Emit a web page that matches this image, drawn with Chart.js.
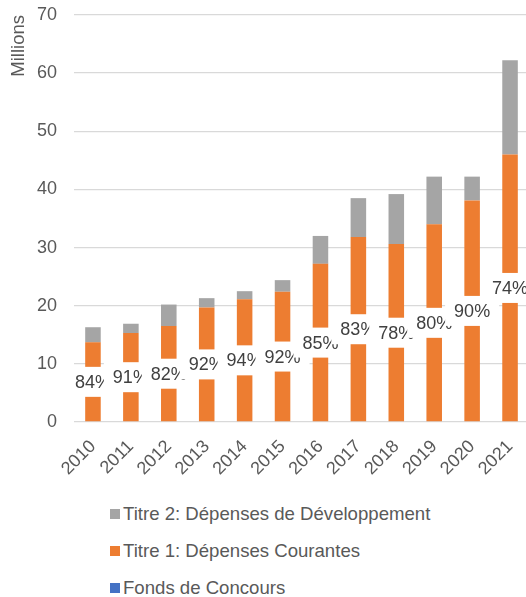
<!DOCTYPE html>
<html>
<head>
<meta charset="utf-8">
<script src="https://cdn.jsdelivr.net/npm/chart.js@4"></script>
<style>
  body { margin: 0; background: #fff; overflow: hidden; font-family: "Liberation Sans", Arial, sans-serif; }
  #wrap { position: relative; width: 529px; height: 482px; }
  #legend { margin-left: 110px; margin-top: 13px; }
  .item { display: flex; align-items: center; height: 37px; color: #595959; font-size: 18.6px; }
  .swatch { width: 10px; height: 10px; margin-right: 3px; }
</style>
</head>
<body>
<div id="wrap"><canvas id="myChart" width="529" height="482"></canvas></div>
<div id="legend"></div>
<script>
const years = ['2010','2011','2012','2013','2014','2015','2016','2017','2018','2019','2020','2021'];
const fondsConcours = [0,0,0,0,0,0,0,0,0,0,0,0];
const titre1 = [13.7, 15.3, 16.5, 19.7, 21.1, 22.4, 27.2, 31.8, 30.6, 34.0, 38.1, 46.0];
const titre2 = [2.6, 1.6, 3.7, 1.6, 1.4, 2.0, 4.8, 6.7, 8.6, 8.2, 4.1, 16.2];
const pctLabels = ['84%','91%','82%','92%','94%','92%','85%','83%','78%','80%','90%','74%'];
const yTicks = [0, 10, 20, 30, 40, 50, 60, 70];

const FONT = '"Liberation Sans", Arial, sans-serif';
const TXT = '#595959';

// labels on the Titre 1 bars, white box drawn one after another like Excel
const pctPlugin = {
  id: 'pctLabels',
  afterDatasetsDraw(chart) {
    const meta = chart.getDatasetMeta(1);
    const ctx = chart.ctx;
    ctx.save();
    ctx.font = '18px ' + FONT;
    ctx.textAlign = 'center';
    ctx.textBaseline = 'middle';
    meta.data.forEach((bar, i) => {
      const txt = pctLabels[i];
      const cy = (bar.y + bar.base) / 2;
      const w = ctx.measureText(txt).width;
      ctx.fillStyle = '#fff';
      ctx.fillRect(bar.x - w / 2 - 9, cy - 15, w + 18, 30);
      ctx.fillStyle = '#404040';
      ctx.fillText(txt, bar.x, cy + 1);
    });
    ctx.restore();
  }
};

const ctx = document.getElementById('myChart');
const myChart = new Chart(ctx, {
  type: 'bar',
  data: {
    labels: years,
    datasets: [
      { label: 'Fonds de Concours', data: fondsConcours, backgroundColor: '#4472C4' },
      { label: 'Titre 1: Dépenses Courantes', data: titre1, backgroundColor: '#ED7D31' },
      { label: 'Titre 2: Dépenses de Développement', data: titre2, backgroundColor: '#A5A5A5' }
    ]
  },
  options: {
    responsive: false,
    animation: false,
    layout: { padding: { top: 15, right: 0, left: 0, bottom: 0 } },
    datasets: { bar: { categoryPercentage: 1, barPercentage: 0.41, borderWidth: 0 } },
    plugins: {
      legend: { display: false },
      tooltip: { enabled: false }
    },
    scales: {
      x: {
        stacked: true,
        grid: { display: false },
        border: { display: false },
        ticks: { color: TXT, font: { family: FONT, size: 18 }, minRotation: 45, maxRotation: 45, padding: 6 },
        afterFit(scale) { scale.height = 60; scale.paddingLeft = 0; scale.paddingRight = 0; }
      },
      y: {
        stacked: true,
        min: 0,
        max: 70,
        afterBuildTicks(scale) { scale.ticks = yTicks.map(v => ({ value: v })); },
        grid: { color: '#D9D9D9', lineWidth: 1.3, drawTicks: false },
        border: { display: false },
        ticks: { color: TXT, font: { family: FONT, size: 18 }, padding: 17 },
        title: { display: true, text: 'Millions', align: 'end', color: TXT, font: { family: FONT, size: 18.5 }, padding: { top: 8, bottom: 0 } },
        afterFit(scale) { scale.width = 74; scale.paddingTop = 0; }
      }
    }
  },
  plugins: [pctPlugin]
});

// legend as a vertical list, top series first
const legend = document.getElementById('legend');
myChart.data.datasets.slice().reverse().forEach(ds => {
  const row = document.createElement('div');
  row.className = 'item';
  row.innerHTML = '<span class="swatch" style="background:' + ds.backgroundColor + '"></span>' + ds.label;
  legend.appendChild(row);
});
</script>
</body>
</html>
